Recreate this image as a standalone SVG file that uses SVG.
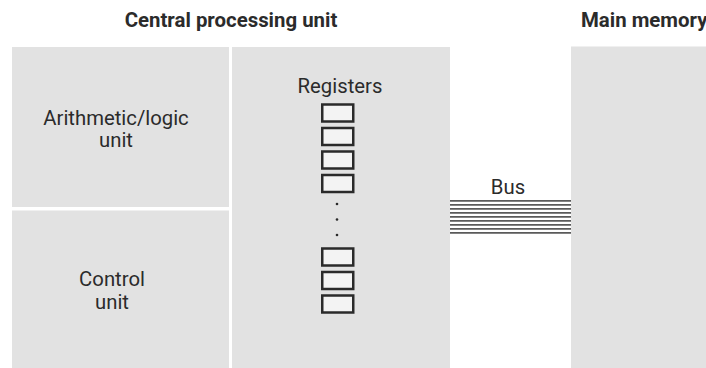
<svg xmlns="http://www.w3.org/2000/svg" width="706" height="368" viewBox="0 0 706 368">
<defs>
<style>
.blk{fill:#e2e2e2}
.t{font-family:Roboto,"Liberation Sans",sans-serif;font-size:20.3px;fill:#2b2b2b}
.ttl{font-family:Roboto,"Liberation Sans",sans-serif;font-size:20.4px;font-weight:bold;fill:#2b2b2b}
.reg{fill:#f3f3f3;stroke:#2a2a2a;stroke-width:2.5}
.dot{fill:#2a2a2a}
.bus line{stroke:#5a5a5a;stroke-width:1.8}
</style>
</defs>
<rect width="706" height="368" fill="#ffffff"/>
<text class="ttl" x="231" y="27" text-anchor="middle">Central processing unit</text>
<text class="ttl" x="581" y="27">Main memory</text>
<g id="alu">
<rect class="blk" x="12" y="47" width="217" height="160"/>
<text class="t" x="116" y="124.5" text-anchor="middle">Arithmetic/logic</text>
<text class="t" x="116" y="147" text-anchor="middle">unit</text>
</g>
<g id="control">
<rect class="blk" x="12" y="210.5" width="217" height="157.5"/>
<text class="t" x="112" y="286" text-anchor="middle">Control</text>
<text class="t" x="112" y="308.5" text-anchor="middle">unit</text>
</g>
<g id="registers">
<rect class="blk" x="232" y="47" width="218" height="321"/>
<text class="t" x="340" y="93" text-anchor="middle">Registers</text>
<rect class="reg" x="322.25" y="104.5" width="31" height="17"/>
<rect class="reg" x="322.25" y="128" width="31" height="17"/>
<rect class="reg" x="322.25" y="151.5" width="31" height="17"/>
<rect class="reg" x="322.25" y="175" width="31" height="17"/>
<circle class="dot" cx="337" cy="204" r="1.3"/>
<circle class="dot" cx="337" cy="219.5" r="1.3"/>
<circle class="dot" cx="337" cy="235" r="1.3"/>
<rect class="reg" x="322.25" y="248.5" width="31" height="17"/>
<rect class="reg" x="322.25" y="272" width="31" height="17"/>
<rect class="reg" x="322.25" y="295.5" width="31" height="17"/>
</g>
<g id="memory">
<rect class="blk" x="571" y="46.5" width="135" height="321.5"/>
</g>
<g id="connectors">
<g id="bus" class="bus">
<line x1="450" y1="200.8" x2="571" y2="200.8"/>
<line x1="450" y1="204.8" x2="571" y2="204.8"/>
<line x1="450" y1="208.8" x2="571" y2="208.8"/>
<line x1="450" y1="212.8" x2="571" y2="212.8"/>
<line x1="450" y1="216.8" x2="571" y2="216.8"/>
<line x1="450" y1="220.8" x2="571" y2="220.8"/>
<line x1="450" y1="224.8" x2="571" y2="224.8"/>
<line x1="450" y1="228.8" x2="571" y2="228.8"/>
<line x1="450" y1="232.8" x2="571" y2="232.8"/>
</g>
<text class="t" x="508" y="193.5" text-anchor="middle">Bus</text>
</g>
</svg>
